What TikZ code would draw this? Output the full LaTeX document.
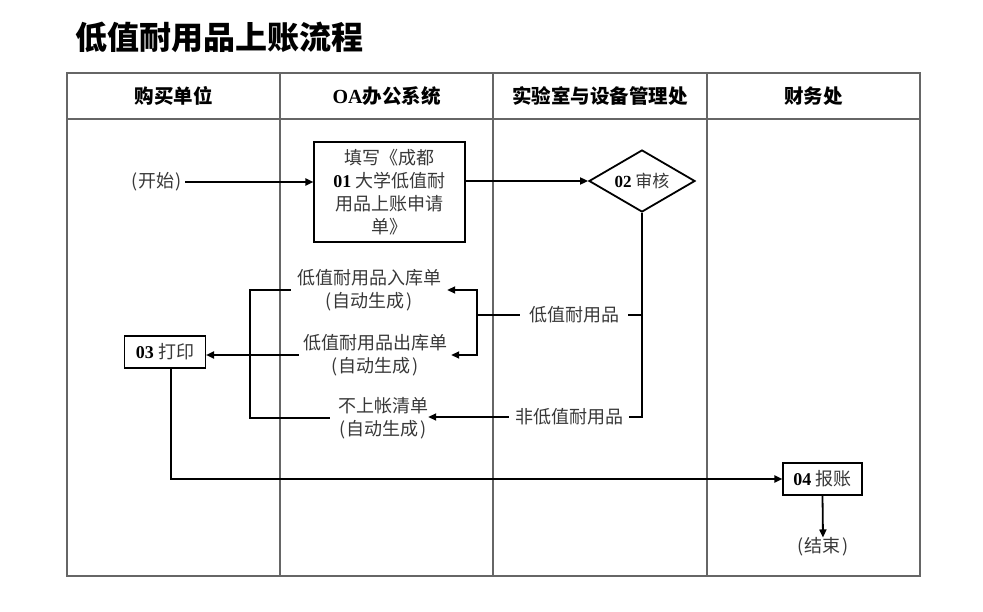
\documentclass[tikz,border=0pt]{standalone}
\usepackage{fontspec}
\setmainfont{Liberation Serif}
\newfontfamily\cjk{Noto Sans CJK SC}
\newfontfamily\serifdig{Liberation Serif}
\newcommand\digs[1]{{\color{black}\serifdig\bfseries #1}}
\usetikzlibrary{arrows.meta,shapes.geometric}
\begin{document}
\begin{tikzpicture}[x=1pt,y=-1pt,
  grid/.style={draw=black!60,line width=1.1pt},
  conn/.style={line width=1.8pt},
  arr/.style={conn,-{Triangle[length=8pt,width=7pt]}},
  lbl/.style={font=\cjk\fontsize{18}{23}\selectfont,text=black!78,align=center,inner sep=0pt},
  hdr/.style={font=\cjk\bfseries\fontsize{19.5}{22}\selectfont,inner sep=0pt},
  boxn/.style={lbl,draw=black,text=black!78,line width=1.1pt}
]
\useasboundingbox (0,0) rectangle (983,612);

% title
\node[anchor=west,inner sep=0pt,font=\cjk\bfseries\fontsize{32}{32}\selectfont] (title) at (75,37) {低值耐用品上账流程};

% table
\draw[grid] (67,73) rectangle (920,576);
\draw[grid] (67,119) -- (920,119);
\foreach \x in {280,493,707} \draw[grid] (\x,73) -- (\x,576);

\node[hdr] (h1) at (173.5,96) {购买单位};
\node[hdr] (h2) at (386.5,96) {{\serifdig\bfseries\fontsize{20}{22}\selectfont OA}办公系统};
\node[hdr] (h3) at (600,96) {实验室与设备管理处};
\node[hdr] (h4) at (813.5,96) {财务处};

% nodes
\node[lbl,inner xsep=3pt] (start) at (157,182) {(\kern1pt开始\kern1pt)};
\node[boxn,minimum width=151pt,minimum height=100pt] (b1) at (389.5,192)
  {填写《成都\\\digs{01} 大学低值耐\\用品上账申请\\单》};
\node[diamond,draw,line width=1.8pt,aspect=1.7,inner sep=0pt,minimum width=106pt,minimum height=62pt,
  font=\cjk\fontsize{17}{20}\selectfont,text=black!78] (d2) at (642,181) {\digs{02} 审核};

\node[lbl,inner xsep=9pt] (lv) at (574,315) {低值耐用品};
\node[lbl,inner xsep=6pt] (nlv) at (569,417) {非低值耐用品};

\node[lbl,inner xsep=6pt] (in1) at (369,290) {低值耐用品入库单\\(\kern1pt自动生成\kern1pt)};
\node[lbl,inner xsep=4pt] (out1) at (375,355) {低值耐用品出库单\\(\kern1pt自动生成\kern1pt)};
\node[lbl,inner xsep=0pt] (nbz) at (383,418) {不上帐清单\\(\kern1pt自动生成\kern1pt)};

\node[boxn,minimum width=81pt,minimum height=32pt] (p3) at (165,352) {\digs{03} 打印};
\node[boxn,minimum width=79pt,minimum height=32pt] (p4) at (822.5,479) {\digs{04} 报账};
\node[lbl] (end) at (823,547) {(\kern1pt结束\kern1pt)};

\coordinate (jn) at (477,315);
\coordinate (bk) at (250,353);

% connectors
\draw[arr] (start.east) -- (start.east -| b1.west);
\draw[arr] (b1.east |- d2) -- (d2.west);
\draw[conn] (d2.south) -- (d2.south |- nlv) -- (nlv.east);
\draw[conn] (d2.south |- lv) -- (lv.east);
\draw[conn] (lv.west) -- (jn);
\draw[arr] (jn) |- (in1.east);
\draw[arr] (jn) |- (out1.east);
\draw[arr] (nlv.west) -- (nlv.west -| nbz.east);
\draw[conn,shorten >=8pt] (in1.west) -| (bk) |- (nbz.west);
\draw[arr] (out1.west) -- (out1.west -| p3.east);
\draw[arr] ([xshift=6pt]p3.south) |- (p4.west);
\draw[arr] (p4.south) -- (end.north);
\end{tikzpicture}
\end{document}
